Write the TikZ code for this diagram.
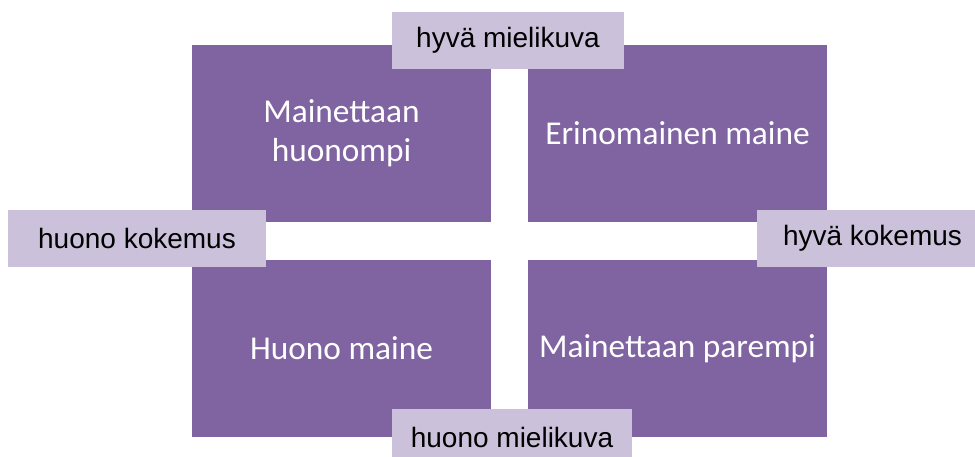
\documentclass[tikz,border=0pt]{standalone}
\usepackage{fontspec}
\setmainfont{Carlito}
\newfontfamily\labelfont{Liberation Sans}
\usetikzlibrary{positioning}
\definecolor{quadpurple}{HTML}{8064A2}
\definecolor{lilac}{HTML}{CCC1DA}
\tikzset{
  quad/.style={
    fill=quadpurple,
    draw=none,
    text=white,
    align=center,
    font=\fontsize{25}{29}\selectfont,
    minimum width=224.25pt,
    minimum height=132.75pt,
    inner sep=0pt
  },
  axis label/.style={
    fill=lilac,
    draw=none,
    text=black,
    font=\labelfont\fontsize{21}{25}\selectfont,
    minimum height=42.75pt,
    inner sep=0pt
  }
}

\begin{document}
\begin{tikzpicture}[x=0.75pt,y=-0.75pt]
\useasboundingbox (0,0) rectangle (975,457);

% quadrants
\node[quad] (tl) at (341.5,133.5) {Mainettaan\\huonompi};
\node[quad] (tr) at (677.5,133.5) {Erinomainen maine};
\node[quad] (bl) at (341.5,348.5) {Huono maine};
\node[quad] (br) at (677.5,348.5) {Mainettaan parempi};

% axis labels
\node[axis label,minimum width=174pt] (good image) at (508,40) {hyvä mielikuva};
\node[axis label,minimum width=180pt] (bad image) at (512,437) {huono mielikuva};
\node[axis label,minimum width=193.5pt] (bad exp) at (137,238.5) {huono kokemus};
\node[axis label,minimum width=173.25pt] (good exp) at (872.5,238.5) {hyvä kokemus};
\end{tikzpicture}
\end{document}
